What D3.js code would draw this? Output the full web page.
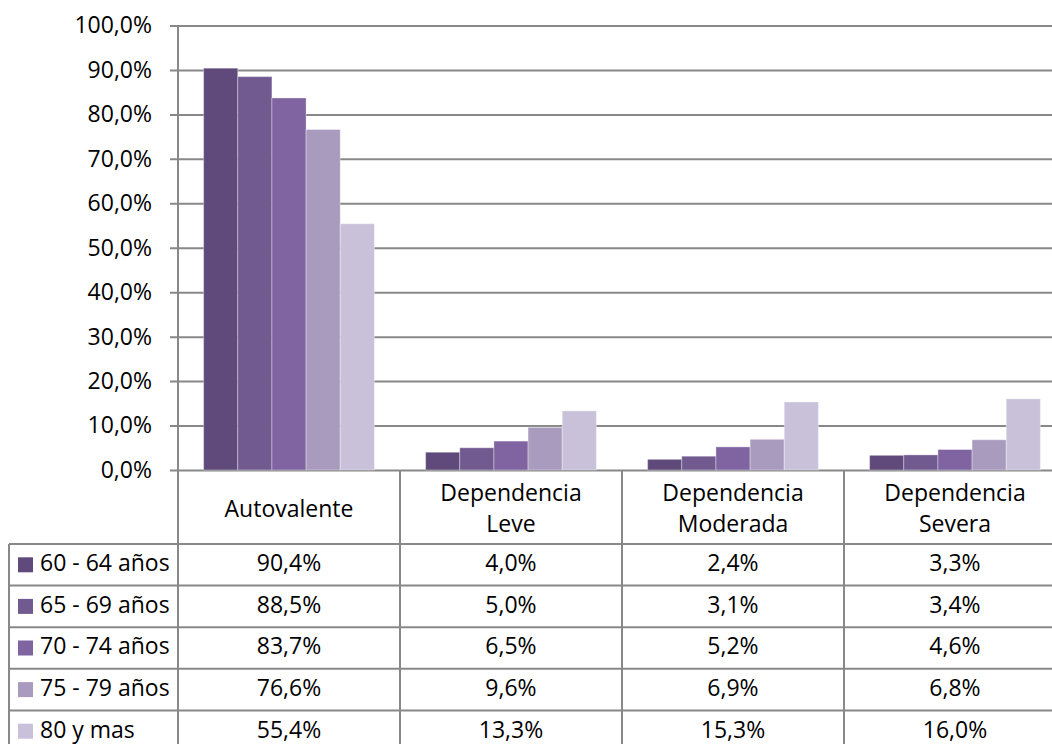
<!DOCTYPE html>
<html>
<head>
<meta charset="utf-8">
<script src="https://cdn.jsdelivr.net/npm/d3@7"></script>
<style>
  html, body { margin: 0; padding: 0; background: #fff; }
  svg { display: block; font-family: "Open Sans", sans-serif; }
</style>
</head>
<body>
<script>
const categories = ['Autovalente', 'Dependencia Leve', 'Dependencia Moderada', 'Dependencia Severa'];
const categoryLines = [['Autovalente'], ['Dependencia', 'Leve'], ['Dependencia', 'Moderada'], ['Dependencia', 'Severa']];
const series = ['60 - 64 años', '65 - 69 años', '70 - 74 años', '75 - 79 años', '80 y mas'];
const colors = ['#5f4a7b', '#715a90', '#8064a2', '#a99bbe', '#c8c1d9'];
const v6064 = [0.904, 0.040, 0.024, 0.033];
const v6569 = [0.885, 0.050, 0.031, 0.034];
const v7074 = [0.837, 0.065, 0.052, 0.046];
const v7579 = [0.766, 0.096, 0.069, 0.068];
const v80 = [0.554, 0.133, 0.153, 0.160];
const values = [v6064, v6569, v7074, v7579, v80];
const yTicks = [0, 0.1, 0.2, 0.3, 0.4, 0.5, 0.6, 0.7, 0.8, 0.9, 1.0];

const width = 1052, height = 744;
const plotLeft = 178, plotRight = 1066, plotTop = 25.5, plotBottom = 470;
const headerBottom = 544, rowH = 41.6, tableLeft = 9;
const grid = '#888888';
const fontSize = 23;

// comma decimal like the original
const locale = d3.formatLocale({ decimal: ',', thousands: '.', grouping: [3], currency: ['', '€'] });
const pct = locale.format('.1%');

const svg = d3.select('body').append('svg')
  .attr('width', width)
  .attr('height', height);

const x = d3.scaleBand().domain(categories).range([plotLeft, plotRight]);
const bw = x.bandwidth();
const gap = bw * 1.5 / 6.5;
const x1 = d3.scaleBand().domain(series).range([gap / 2, bw - gap / 2]);
const y = d3.scaleLinear().domain([0, 1]).range([plotBottom, plotTop]);

// gridlines + ticks
const yAxis = d3.axisLeft(y).tickValues(yTicks).tickFormat(pct).tickSize(-(width - plotLeft)).tickSizeOuter(0).tickPadding(26);
const gy = svg.append('g').attr('transform', `translate(${plotLeft},0)`).call(yAxis);
gy.select('.domain').remove();
gy.selectAll('.tick line').attr('x1', -8).attr('stroke', grid).attr('stroke-width', 2);
gy.selectAll('.tick text').attr('font-size', fontSize).attr('fill', '#000').attr('font-family', '"Open Sans", sans-serif');

// bars
const groups = svg.append('g').selectAll('g')
  .data(series)
  .join('g')
  .attr('fill', (d, i) => colors[i]);

groups.selectAll('rect')
  .data((s, i) => categories.map((c, j) => ({ c, s, v: values[i][j] })))
  .join('rect')
  .attr('x', d => x(d.c) + x1(d.s))
  .attr('y', d => y(d.v))
  .attr('width', x1.bandwidth())
  .attr('height', d => plotBottom - y(d.v))
  .attr('stroke', 'rgba(255,255,255,0.35)')
  .attr('stroke-width', 1);

// table lines
const lines = svg.append('g').attr('stroke', grid).attr('stroke-width', 2);
lines.append('line').attr('x1', plotLeft).attr('x2', plotLeft).attr('y1', plotTop).attr('y2', height + 10);
categories.slice(1).forEach(c => {
  lines.append('line').attr('x1', x(c)).attr('x2', x(c)).attr('y1', plotBottom).attr('y2', height + 10);
});
lines.append('line').attr('x1', tableLeft).attr('x2', tableLeft).attr('y1', headerBottom).attr('y2', height + 10);
d3.range(series.length + 1).forEach(i => {
  const yy = headerBottom + i * rowH;
  lines.append('line').attr('x1', tableLeft).attr('x2', width).attr('y1', yy).attr('y2', yy);
});

// header labels
const header = svg.append('g').attr('font-size', fontSize).attr('text-anchor', 'middle');
categoryLines.forEach((ls, j) => {
  const cx = x(categories[j]) + bw / 2;
  const cy = (plotBottom + headerBottom) / 2;
  const lh = 31;
  ls.forEach((t, k) => {
    header.append('text')
      .attr('x', cx)
      .attr('y', cy + (k - (ls.length - 1) / 2) * lh)
      .attr('dy', '0.42em')
      .text(t);
  });
});

// rows
const rows = svg.append('g').attr('font-size', fontSize);
series.forEach((s, i) => {
  const cy = headerBottom + i * rowH + rowH / 2;
  rows.append('rect').attr('x', 18).attr('y', cy - 7.5).attr('width', 15).attr('height', 15).attr('fill', colors[i]);
  rows.append('text').attr('x', 40).attr('y', cy).attr('dy', '0.28em').text(s);
  categories.forEach((c, j) => {
    rows.append('text')
      .attr('x', x(c) + bw / 2)
      .attr('y', cy)
      .attr('dy', '0.28em')
      .attr('text-anchor', 'middle')
      .text(pct(values[i][j]));
  });
});
</script>
</body>
</html>
